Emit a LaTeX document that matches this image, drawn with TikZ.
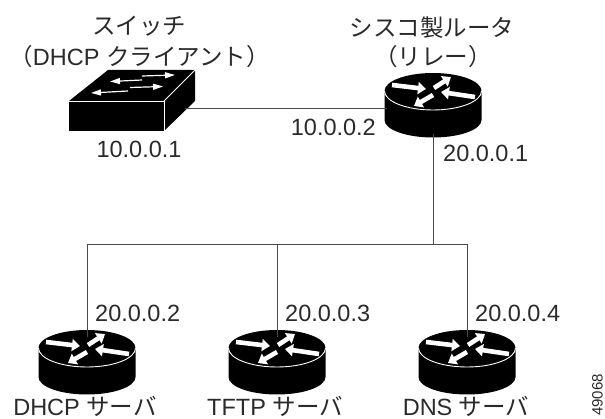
\documentclass[tikz,border=0pt]{standalone}
\usepackage{fontspec}
\setmainfont{Liberation Sans}
\newfontfamily\cjk{Noto Sans CJK JP}
\usetikzlibrary{arrows.meta,positioning,calc}
\definecolor{inkgray}{HTML}{2A2A2A}
\tikzset{
  label/.style={font=\fontsize{23.5}{26}\selectfont,text=inkgray,inner sep=0pt},
  link/.style={draw=inkgray!85,line width=0.9pt},
  bigarrow/.style={white,line width=4.6pt,-{Triangle[width=12pt,length=8pt]}},
  thinarrow/.style={white,line width=1.2pt,-{Triangle[width=6pt,length=10pt]}},
  router/.pic={
    \fill[black] (-48.5,0) -- (-48.5,29) arc[start angle=180,end angle=0,x radius=48.5,y radius=17.5]
      -- (48.5,0) arc[start angle=0,end angle=-180,x radius=48.5,y radius=18] -- cycle;
    \draw[white,line width=0.9pt] (-48.5,0) arc[start angle=180,end angle=0,x radius=48.5,y radius=19];
    \draw[bigarrow] (-41,-6) -- (-7,-2);
    \draw[bigarrow] (1,-3) -- (18,-14);
    \draw[bigarrow] (42,6) -- (8,1);
    \draw[bigarrow] (0,4) -- (-19,15);
    \coordinate (-top) at (0,-11);
    \coordinate (-bot) at (0,43);
    \coordinate (-lft) at (-46,17);
  },
}
\begin{document}
\begin{tikzpicture}[x=1pt,y=-1pt,>=Latex]
\useasboundingbox (0,0) rectangle (605,419);
% switch
\fill[black] (69,101) -- (108,70) -- (195,70) -- (195,101) -- (164,131) -- (69,131) -- cycle;
\draw[white,line width=0.8pt] (69,101) -- (164,101) -- (164,131);
\draw[white,line width=0.8pt] (164,101) -- (195,70);
\draw[thinarrow] (142,76) -- (175,75);
\draw[thinarrow] (142,80) -- (110,81.5);
\draw[thinarrow] (130,87.5) -- (163,86.5);
\draw[thinarrow] (128,91) -- (91,93);
\coordinate (sw) at (185,108);
% routers
\pic (relay) at (433,91) {router};
\foreach \n/\x in {dhcp/87,tftp/277,dns/467}{
  \pic (\n) at (\x,348) {router};
}
\coordinate (bus) at (433,244);
\draw[link] (sw) -- (relay-lft);
\draw[link] (relay-bot) -- (bus);
\draw[link] (dhcp-top) |- (bus);
\draw[link] (tftp-top) -- (tftp-top |- bus);
\draw[link] (dns-top) |- (bus);
% labels
\node[label] (swname) at (139,26) {\cjk スイッチ};
\node[label] (swrole) at (139.5,57) {\cjk （\rmfamily DHCP \cjk クライアント）};
\node[label] (rtname) at (432,28) {\cjk シスコ製ルータ};
\node[label] (rtrole) at (433,57) {\cjk （リレー）};
\node[label] (ip1) at (139,149) {10.0.0.1};
\node[label,anchor=east] (ip2) at (376,127) {10.0.0.2};
\node[label,anchor=west] (ip3) at (443,153) {20.0.0.1};
\node[label,anchor=west] (ip4) at (95,313) {20.0.0.2};
\node[label,anchor=west] (ip5) at (285,313) {20.0.0.3};
\node[label,anchor=west] (ip6) at (475,313) {20.0.0.4};
\node[label] (dhcpname) at (85,406.5) {DHCP \cjk サーバ};
\node[label] (tftpname) at (275,406.5) {TFTP \cjk サーバ};
\node[label] (dnsname) at (466,406.5) {DNS \cjk サーバ};
\node[font=\fontsize{15}{15}\selectfont,text=inkgray,inner sep=0pt,rotate=90] (figno) at (597.5,395) {49068};
\end{tikzpicture}
\end{document}
